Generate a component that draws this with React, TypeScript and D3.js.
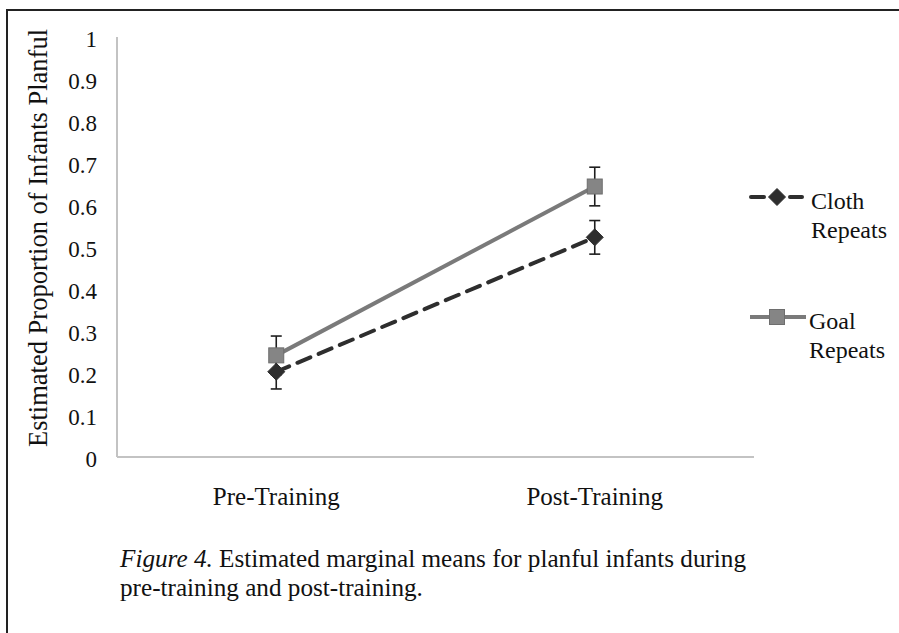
import React from "react";
import * as d3 from "d3";

const categories = ["Pre-Training", "Post-Training"];
const clothMeans = [0.203, 0.523];
const clothErr = [0.041, 0.04];
const goalMeans = [0.242, 0.644];
const goalErr = [0.046, 0.046];
const yTicks = [0, 0.1, 0.2, 0.3, 0.4, 0.5, 0.6, 0.7, 0.8, 0.9, 1];
const yTitle = "Estimated Proportion of Infants Planful";
const legendLabels = [["Cloth", "Repeats"], ["Goal", "Repeats"]];
const captionItalic = "Figure 4.";
const captionLine1 = " Estimated marginal means for planful infants during";
const captionLine2 = "pre-training and post-training.";

const W = 899;
const H = 633;
const FONT = "'Liberation Serif', 'Times New Roman', serif";

export default function App() {
  const x = d3.scaleBand<string>().domain(categories).range([117, 754]).padding(0);
  const y = d3.scaleLinear().domain([0, 1]).range([457, 37]);
  const cx = (c: string) => (x(c) as number) + x.bandwidth() / 2;

  const line = d3
    .line<number>()
    .x((_, i) => cx(categories[i]))
    .y((d) => y(d));

  const clothColor = "#2e2e2e";
  const goalColor = "#7a7a7a";
  const errColor = "#1e1e1e";

  const errorBars = (means: number[], errs: number[], key: string) =>
    means.map((m, i) => {
      const px = cx(categories[i]);
      const top = y(m + errs[i]);
      const bot = y(m - errs[i]);
      return (
        <g key={key + i} stroke={errColor} strokeWidth={1.6}>
          <line x1={px} x2={px} y1={top} y2={bot} />
          <line x1={px - 5.5} x2={px + 5.5} y1={top} y2={top} />
          <line x1={px - 5.5} x2={px + 5.5} y1={bot} y2={bot} />
        </g>
      );
    });

  const diamond = (px: number, py: number, k: string) => (
    <path
      key={k}
      d={`M${px},${py - 8.5}L${px + 8.5},${py}L${px},${py + 8.5}L${px - 8.5},${py}Z`}
      fill={clothColor}
      stroke={clothColor}
      strokeWidth={1}
    />
  );
  const square = (px: number, py: number, k: string) => (
    <rect
      key={k}
      x={px - 7.5}
      y={py - 7.5}
      width={15}
      height={15}
      fill="#858585"
      stroke="#6e6e6e"
      strokeWidth={1}
    />
  );

  return (
    <div style={{ position: "fixed", left: 0, top: 0 }}>
      <svg width={W} height={H} style={{ display: "block", background: "#fff" }}>
        <rect x={7} y={10} width={930} height={680} fill="#fff" stroke="#222" strokeWidth={2} />

        {/* axes */}
        <line x1={117} x2={117} y1={y(1)} y2={y(0)} stroke="#c3c3c3" strokeWidth={2} />
        <line x1={117} x2={754} y1={y(0)} y2={y(0)} stroke="#c3c3c3" strokeWidth={2} />

        {yTicks.map((t) => (
          <text
            key={t}
            x={97}
            y={y(t) + 10}
            textAnchor="end"
            fontFamily={FONT}
            fontSize={23}
            fill="#111"
          >
            {String(t)}
          </text>
        ))}

        {categories.map((c) => (
          <text
            key={c}
            x={cx(c)}
            y={505}
            textAnchor="middle"
            fontFamily={FONT}
            fontSize={25}
            fill="#111"
          >
            {c}
          </text>
        ))}

        <text
          transform={`translate(47,238) rotate(-90)`}
          textAnchor="middle"
          fontFamily={FONT}
          fontSize={26.5}
          fill="#111"
        >
          {yTitle}
        </text>

        {/* lines */}
        <path d={line(goalMeans) || ""} fill="none" stroke={goalColor} strokeWidth={4} />
        <path
          d={line(clothMeans) || ""}
          fill="none"
          stroke={clothColor}
          strokeWidth={4}
          strokeDasharray="14 9"
          strokeLinecap="round"
        />

        {errorBars(goalMeans, goalErr, "g")}
        {errorBars(clothMeans, clothErr, "c")}

        {goalMeans.map((m, i) => square(cx(categories[i]), y(m), "gs" + i))}
        {clothMeans.map((m, i) => diamond(cx(categories[i]), y(m), "cd" + i))}

        {/* legend */}
        <g>
          <line x1={751} x2={764} y1={197} y2={197} stroke={clothColor} strokeWidth={4} strokeLinecap="round" />
          <line x1={790} x2={802} y1={197} y2={197} stroke={clothColor} strokeWidth={4} strokeLinecap="round" />
          {diamond(777, 197, "ld")}
          <text x={811} y={209} fontFamily={FONT} fontSize={24} fill="#111">
            {legendLabels[0][0]}
          </text>
          <text x={811} y={238} fontFamily={FONT} fontSize={24} fill="#111">
            {legendLabels[0][1]}
          </text>

          <line x1={750} x2={806} y1={317} y2={317} stroke={goalColor} strokeWidth={4} />
          {square(777, 317, "ls")}
          <text x={809} y={329} fontFamily={FONT} fontSize={24} fill="#111">
            {legendLabels[1][0]}
          </text>
          <text x={809} y={358} fontFamily={FONT} fontSize={24} fill="#111">
            {legendLabels[1][1]}
          </text>
        </g>

        {/* caption */}
        <text x={120} y={567} fontFamily={FONT} fontSize={25.2} fill="#111">
          <tspan fontStyle="italic">{captionItalic}</tspan>
          <tspan>{captionLine1}</tspan>
        </text>
        <text x={120} y={596} fontFamily={FONT} fontSize={25.2} fill="#111">
          {captionLine2}
        </text>
      </svg>
    </div>
  );
}
